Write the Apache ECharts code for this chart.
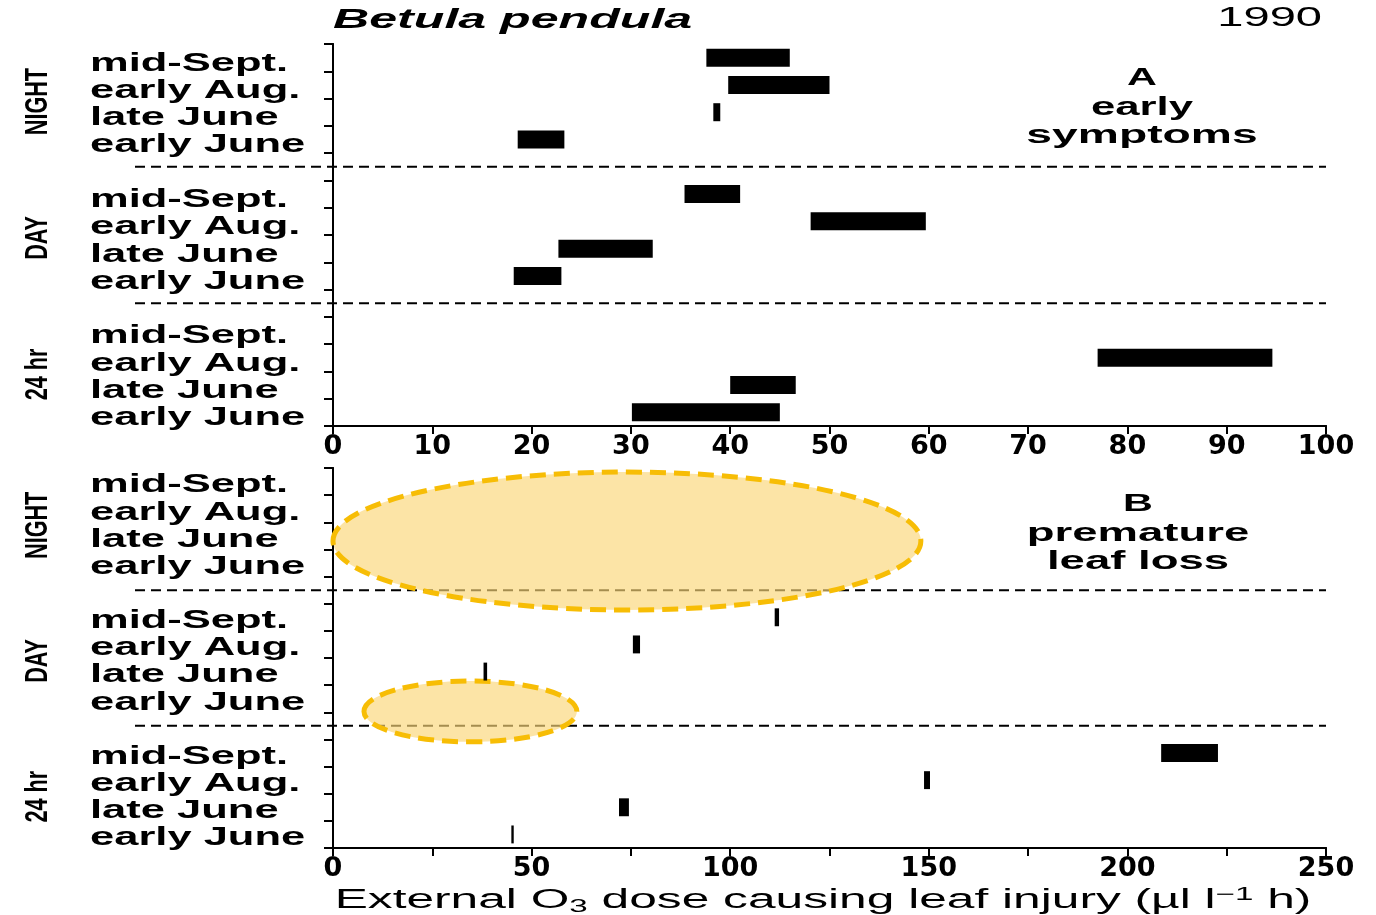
<!DOCTYPE html>
<html>
<head>
<meta charset="utf-8">
<script src="https://cdn.jsdelivr.net/npm/echarts@6/dist/echarts.min.js"></script>
<style>html,body{margin:0;padding:0;background:#fff;}#chart{width:1376px;height:915px;}</style>
</head>
<body>
<div id="chart"></div>
<script>
// ---- data (rows listed bottom -> top within each group) ----
const rowNames = ['early June', 'late June', 'early Aug.', 'mid-Sept.'];
const groupNames = ['24 hr', 'DAY', 'NIGHT'];           // bottom -> top
const xTicksA = [0, 100, 10];                            // min, max, step (panel A)
const xTicksB = [0, 250, 50];                            // min, max, step (panel B)

// Panel A: early symptoms, [start, end] of O3 dose
const A_24hr  = [[30.1, 45.0], [40.0, 46.6], [77.0, 94.6], null];
const A_day   = [[18.2, 23.0], [22.7, 32.2], [48.1, 59.7], [35.4, 41.0]];
const A_night = [[18.6, 23.3], [38.3, 39.0], [39.8, 50.0], [37.6, 46.0]];

// Panel B: premature leaf loss
const B_24hr  = [[44.9, 45.5], [72.0, 74.5], [148.8, 150.3], [208.5, 222.8]];
const B_day   = [null, [37.9, 38.8], [75.5, 77.3], [111.2, 112.3]];
const B_night = [null, null, null, null];

// Ellipses (xMin, xMax, yMin, yMax in row units)
const B_ellipseNight = [0, 148, 8.77, 13.85];
const B_ellipseDay   = [7.8, 61.4, 3.91, 6.15];

const separators = [4.5, 9.5];

// ---- helpers to build series data ----
function rowY(g, r) { return g * 5 + r + 0.5; }
function barData(groups) {
  const out = [];
  groups.forEach((grp, g) => grp.forEach((v, r) => { if (v) out.push([v[0], v[1], rowY(g, r)]); }));
  return out;
}
function labelData() {
  const out = [];
  groupNames.forEach((gn, g) => rowNames.forEach((rn, r) => out.push([rowY(g, r), g, r])));
  return out;
}
function ellData(arr) {
  return arr.map(e => [(e[0] + e[1]) / 2, (e[1] - e[0]) / 2, (e[2] + e[3]) / 2, (e[3] - e[2]) / 2]);
}

const FONT = '"Liberation Sans", Arial, Helvetica, sans-serif';
const AXFONT = '"DejaVu Sans", "Liberation Sans", sans-serif';

function barSeries(idx, data) {
  return {
    type: 'custom', xAxisIndex: idx * 2, yAxisIndex: idx * 2, z: 5,
    data: data, encode: { x: [0, 1], y: 2 },
    renderItem: function (params, api) {
      const s = api.coord([api.value(0), api.value(2)]);
      const e = api.coord([api.value(1), api.value(2)]);
      const h = api.size([0, 0.66])[1];
      return { type: 'rect', shape: { x: s[0], y: s[1] - h / 2, width: Math.max(e[0] - s[0], 2), height: h },
               style: { fill: '#000' } };
    }
  };
}
function sepSeries(idx) {
  return {
    type: 'custom', xAxisIndex: idx * 2, yAxisIndex: idx * 2, z: 2, silent: true,
    data: separators.map(v => [0, v]), encode: { y: 1 },
    renderItem: function (params, api) {
      const cs = params.coordSys;
      const p = api.coord([0, api.value(1)]);
      return { type: 'line', shape: { x1: cs.x - 198, y1: p[1], x2: cs.x + cs.width, y2: p[1] },
               style: { stroke: '#000', lineWidth: 2, lineDash: [10, 6] } };
    }
  };
}
function labelSeries(idx, dy) {
  return {
    type: 'custom', xAxisIndex: idx * 2, yAxisIndex: idx * 2, z: 3, silent: true,
    data: labelData(), encode: { y: 0 },
    renderItem: function (params, api) {
      const p = api.coord([0, api.value(0)]);
      const r = api.value(2);
      return { type: 'text', x: p[0] - 243, y: p[1] + dy, scaleX: 1.74,
               style: { text: rowNames[r], fill: '#000', fontSize: 25, fontWeight: 'bold', fontFamily: FONT,
                        align: 'left', verticalAlign: 'middle', textAlign: 'left', textVerticalAlign: 'middle' } };
    }
  };
}
function groupSeries(idx) {
  return {
    type: 'custom', xAxisIndex: idx * 2, yAxisIndex: idx * 2, z: 3, silent: true,
    data: groupNames.map((n, g) => [g * 5 + 2, g]), encode: { y: 0 },
    renderItem: function (params, api) {
      const p = api.coord([0, api.value(0)]);
      const g = api.value(1);
      return { type: 'text', x: p[0] - 295, y: p[1] + 3, rotation: Math.PI / 2, scaleX: 0.9, scaleY: 1.3,
               style: { text: groupNames[g], fill: '#000', fontSize: 24, fontWeight: 'bold', fontFamily: FONT,
                        align: 'center', verticalAlign: 'middle', textAlign: 'center', textVerticalAlign: 'middle' } };
    }
  };
}
function ellipseSeries(idx, data) {
  return {
    type: 'custom', xAxisIndex: idx * 2, yAxisIndex: idx * 2, z: 4, silent: true,
    data: data, encode: { x: 0, y: 2 },
    renderItem: function (params, api) {
      const c = api.coord([api.value(0), api.value(2)]);
      const rx = api.size([api.value(1), 0])[0];
      const ry = api.size([0, api.value(3)])[1];
      return { type: 'ellipse', shape: { cx: c[0], cy: c[1], rx: rx, ry: ry },
               style: { fill: 'rgba(251,214,120,0.66)', stroke: '#F7BD05', lineWidth: 5, lineDash: [16, 8] } };
    }
  };
}

function xAxes(gi, t, minorSplit, topInterval) {
  const base = {
    gridIndex: gi, type: 'value', min: t[0], max: t[1], interval: t[2],
    axisLine: { show: true, lineStyle: { color: '#000', width: 2 } },
    splitLine: { show: false }
  };
  const bottom = Object.assign({}, base, {
    position: 'bottom',
    axisTick: { show: true, inside: false, length: 8, lineStyle: { color: '#000', width: 2 } },
    minorTick: { show: minorSplit > 0, splitNumber: minorSplit || 5, length: 8, lineStyle: { color: '#000', width: 2 } },
    axisLabel: { show: true, color: '#000', fontSize: 27, fontWeight: 'bold', fontFamily: AXFONT, margin: 7 }
  });
  const top = Object.assign({}, base, {
    position: 'top', interval: topInterval,
    axisTick: { show: true, inside: true, length: 8, lineStyle: { color: '#000', width: 2 } },
    axisLabel: { show: false }
  });
  return [bottom, top];
}
function yAxes(gi) {
  const base = { gridIndex: gi, type: 'value', min: 0, max: 14, interval: 1,
    axisLine: { show: true, lineStyle: { color: '#000', width: 2 } },
    splitLine: { show: false }, axisLabel: { show: false } };
  return [
    Object.assign({}, base, { position: 'left', axisTick: { show: true, inside: false, length: 9, lineStyle: { color: '#000', width: 2 } } }),
    Object.assign({}, base, { position: 'right', axisTick: { show: true, inside: true, length: 9, lineStyle: { color: '#000', width: 2 } } })
  ];
}

const chart = echarts.init(document.getElementById('chart'), null, { renderer: 'canvas' });
const txt = (text, x, y, size, sx, extra) => ({
  type: 'text', x: x, y: y, scaleX: sx,
  style: Object.assign({ text: text, fill: '#000', fontSize: size, fontWeight: 'bold', fontFamily: FONT,
    align: 'center', verticalAlign: 'middle', textAlign: 'center', textVerticalAlign: 'middle' }, extra || {})
});

chart.setOption({
  animation: false,
  backgroundColor: '#fff',
  grid: [
    { left: 333, top: 44, width: 993, height: 382, containLabel: false, outerBoundsMode: 'none' },
    { left: 333, top: 468, width: 993, height: 380, containLabel: false, outerBoundsMode: 'none' }
  ],
  xAxis: [].concat(xAxes(0, xTicksA, 0, 10), xAxes(1, xTicksB, 2, 25)),
  yAxis: [].concat(yAxes(0), yAxes(1)),
  series: [
    sepSeries(0), labelSeries(0, 6), groupSeries(0),
    barSeries(0, barData([A_24hr, A_day, A_night])),
    sepSeries(1), labelSeries(1, 4), groupSeries(1),
    barSeries(1, barData([B_24hr, B_day, B_night])),
    ellipseSeries(1, ellData([B_ellipseNight, B_ellipseDay]))
  ],
  graphic: [
    txt('Betula pendula', 333, 20, 28, 1.79, { fontStyle: 'italic', align: 'left', textAlign: 'left' }),
    txt('1990', 1322, 18, 28, 1.68, { fontWeight: 'normal', align: 'right', textAlign: 'right' }),
    txt('A', 1142, 79, 23, 1.8),
    txt('early', 1142, 108, 25, 1.75),
    txt('symptoms', 1142, 136, 25, 1.85),
    txt('B', 1138, 505, 23, 1.8),
    txt('premature', 1138, 534, 25, 1.82),
    txt('leaf loss', 1138, 562, 25, 1.82),
    txt('External O{sub|3} dose causing leaf injury (µl l{sup|−1} h)', 823, 901, 27, 1.84, {
      fontWeight: 'normal',
      rich: {
        sub: { fontSize: 18, fontFamily: FONT, fill: '#000', verticalAlign: 'bottom', padding: [12, 0, 0, 0] },
        sup: { fontSize: 18, fontFamily: FONT, fill: '#000', verticalAlign: 'top', padding: [0, 0, 10, 0] }
      }
    })
  ]
});
</script>
</body>
</html>
